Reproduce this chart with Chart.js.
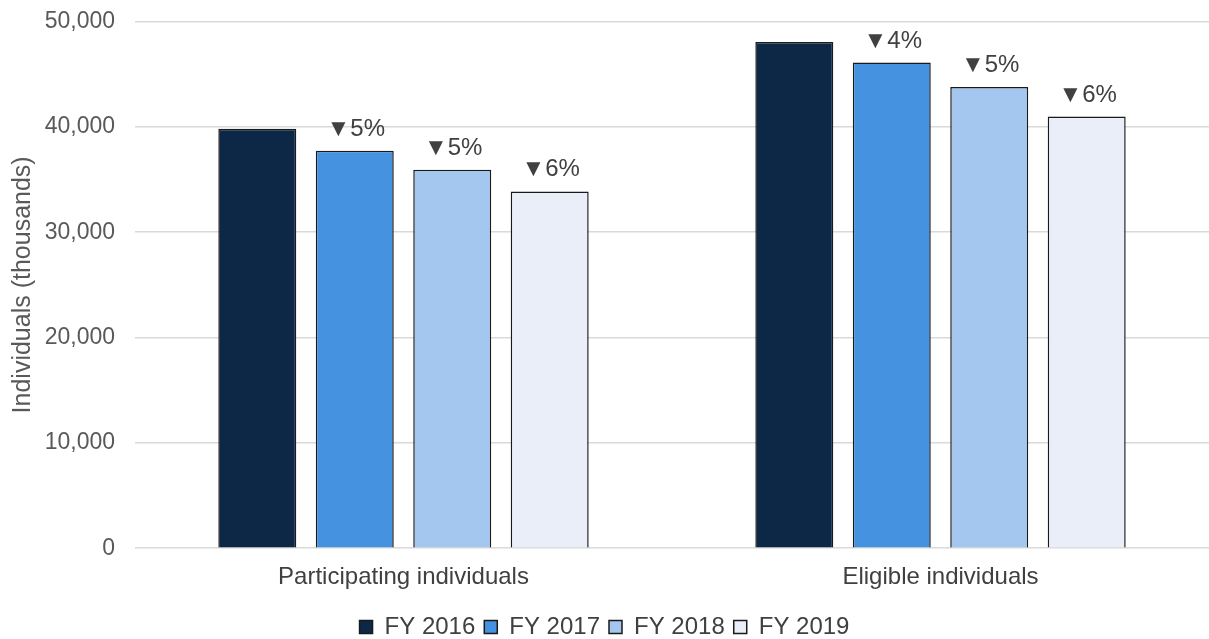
<!DOCTYPE html>
<html>
<head>
<meta charset="utf-8">
<script src="https://cdn.jsdelivr.net/npm/chart.js@4.4.1/dist/chart.umd.min.js"></script>
<style>
  html, body { margin: 0; padding: 0; background: #fff; }
  #wrap { width: 1209px; height: 639px; position: relative; }
</style>
</head>
<body>
<div id="wrap"><canvas id="chart"></canvas></div>
<script>
  // data
  const categories = ["Participating individuals", "Eligible individuals"];
  const years = ["FY 2016", "FY 2017", "FY 2018", "FY 2019"];
  const fy2016 = [39810, 48060];
  const fy2017 = [37730, 46100];
  const fy2018 = [35920, 43790];
  const fy2019 = [33870, 40980];
  // change vs. prior year, shown above bars
  const changeLabels = [
    [null, null],
    ["▼5%", "▼4%"],
    ["▼5%", "▼5%"],
    ["▼6%", "▼6%"]
  ];
  const yTicks = [0, 10000, 20000, 30000, 40000, 50000];

  const colors = ["#0d2847", "#4592e0", "#a3c7ef", "#e9eef8"];
  const series = [fy2016, fy2017, fy2018, fy2019];

  const FONT = "'Liberation Sans', Arial, sans-serif";

  /* ==========================
     LABELS ABOVE BARS
  ========================== */
  const changeLabelPlugin = {
    id: "changeLabels",
    afterDatasetsDraw(chart) {
      const ctx = chart.ctx;
      ctx.save();
      ctx.font = "24px " + FONT;
      ctx.fillStyle = "#404040";
      ctx.textAlign = "center";
      ctx.textBaseline = "alphabetic";
      chart.data.datasets.forEach(function (ds, i) {
        const meta = chart.getDatasetMeta(i);
        meta.data.forEach(function (bar, j) {
          const txt = changeLabels[i][j];
          if (!txt) return;
          ctx.fillText(txt, bar.x + 1, bar.y - 15);
        });
      });
      ctx.restore();
    }
  };

  new Chart(document.getElementById("chart"), {
    type: "bar",
    data: {
      labels: categories,
      datasets: series.map(function (vals, i) {
        return {
          label: years[i],
          data: vals,
          backgroundColor: colors[i],
          borderColor: "#1a1a1a",
          borderWidth: 1.5,
          categoryPercentage: 0.726,
          barPercentage: 0.8
        };
      })
    },
    options: {
      responsive: true,
      maintainAspectRatio: false,
      animation: false,
      layout: { padding: { top: 0, right: 0, left: 0, bottom: -10 } },
      scales: {
        x: {
          grid: { display: false },
          border: { display: false },
          afterFit(axis) { axis.height += 7; },
          ticks: {
            color: "#404040",
            font: { family: FONT, size: 24 },
            padding: 7
          }
        },
        y: {
          min: 0,
          max: 50000,
          afterBuildTicks(axis) {
            axis.ticks = yTicks.map(function (v) { return { value: v }; });
          },
          afterFit(axis) {
            axis.width = 135;
            axis.paddingTop = 21.5;
            axis.paddingBottom = 0;
          },
          grid: { color: "#d9d9d9", lineWidth: 1.5, drawTicks: false },
          border: { display: false },
          ticks: {
            color: "#595959",
            font: { family: FONT, size: 23 },
            padding: 20,
            callback: function (v) { return v.toLocaleString("en-US"); }
          },
          title: {
            display: true,
            text: "Individuals (thousands)",
            color: "#595959",
            font: { family: FONT, size: 25 },
            padding: { top: 8, bottom: 0 }
          }
        }
      },
      plugins: {
        legend: {
          position: "bottom",
          labels: {
            color: "#404040",
            font: { family: FONT, size: 24 },
            boxWidth: 13,
            boxHeight: 13,
            padding: 9
          }
        },
        tooltip: { enabled: false }
      }
    },
    plugins: [changeLabelPlugin]
  });
</script>
</body>
</html>
